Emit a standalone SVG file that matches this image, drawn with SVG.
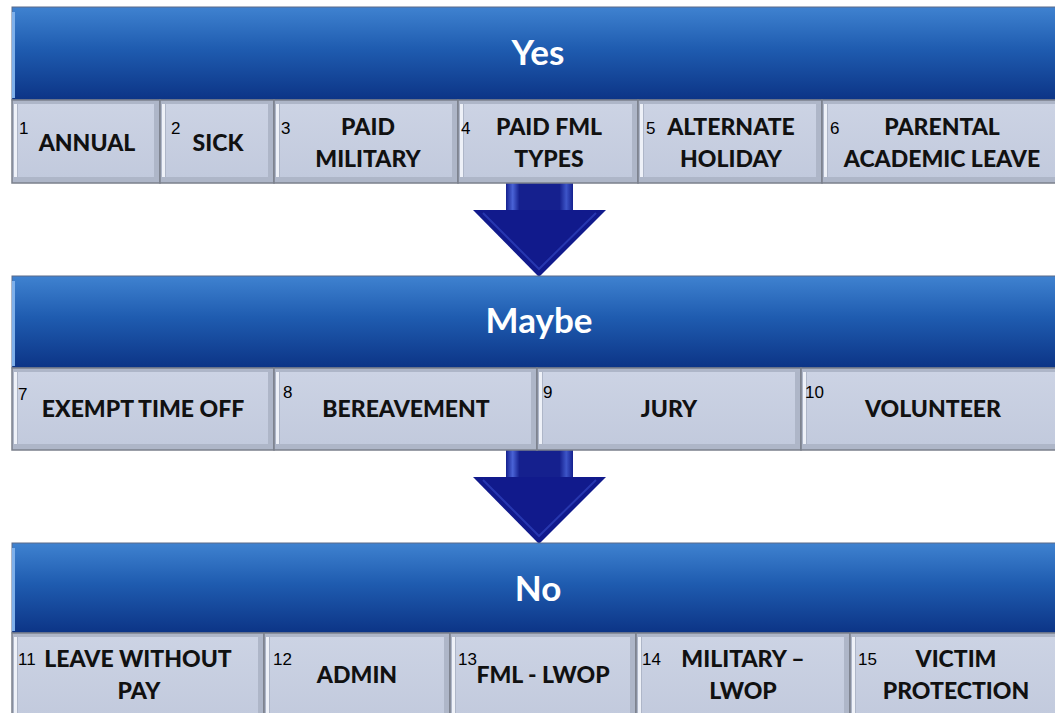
<svg xmlns="http://www.w3.org/2000/svg" width="1055" height="713" viewBox="0 0 1055 713">
<defs>
<linearGradient id="hdr" x1="0" y1="0" x2="0" y2="1">
<stop offset="0" stop-color="#3f82d0"/>
<stop offset="0.45" stop-color="#1f5cb0"/>
<stop offset="1" stop-color="#0c3486"/>
</linearGradient>
<linearGradient id="face" x1="0" y1="0" x2="0" y2="1">
<stop offset="0" stop-color="#ccd3e4"/>
<stop offset="1" stop-color="#c2cadd"/>
</linearGradient>
<linearGradient id="shaft" x1="0" y1="0" x2="1" y2="0">
<stop offset="0" stop-color="#14208e"/>
<stop offset="0.1" stop-color="#4a63d6"/>
<stop offset="0.2" stop-color="#15208e"/>
<stop offset="0.8" stop-color="#15208e"/>
<stop offset="0.9" stop-color="#3d55c8"/>
<stop offset="1" stop-color="#14208e"/>
</linearGradient>
<g id="arrow">
<rect x="-33" y="0" width="67" height="30" fill="url(#shaft)"/>
<polygon points="-66,27 67,27 0,94" fill="#111a8c"/>
<polyline points="-56,30 0,86 57,30" fill="none" stroke="#2d3fb8" stroke-width="2" opacity="0.8"/>
</g>
</defs>
<style>
.hdrbox{fill:url(#hdr);stroke:#5a6a8a;stroke-width:1}
.cellout{fill:#aeb6c8;stroke:#7b808c;stroke-width:1.5}
.cellin{fill:url(#face)}
.hl{fill:#eef1f8}
.ht{font-family:Lato,"Open Sans",sans-serif;font-weight:bold;font-size:35px;fill:#ffffff;text-anchor:middle}
.ct{font-family:Lato,"Open Sans",sans-serif;font-weight:900;font-size:23px;fill:#111111;text-anchor:middle}
.num{font-family:"Liberation Sans",Arial,sans-serif;font-size:17px;fill:#000}
</style>

<g id="connectors">
<use href="#arrow" x="539" y="183"/>
<use href="#arrow" x="539" y="450"/>
</g>

<!-- Band 1 -->
<g id="yes">
<rect class="hdrbox" x="12" y="7" width="1050" height="93"/>
<rect x="12" y="12" width="3" height="86" fill="#7fb0ea"/>
<text class="ht" x="538" y="65">Yes</text>
</g>
<g id="n1"><rect class="cellout" x="12" y="100" width="148" height="83"/><rect class="cellin" x="18" y="104" width="136" height="73"/><rect class="hl" x="14" y="104" width="3" height="73"/><text class="num" x="19" y="134">1</text><text class="ct" x="87" y="151">ANNUAL</text></g>
<g id="n2"><rect class="cellout" x="160" y="100" width="114" height="83"/><rect class="cellin" x="166" y="104" width="102" height="73"/><rect class="hl" x="162" y="104" width="3" height="73"/><text class="num" x="171" y="134">2</text><text class="ct" x="218" y="151">SICK</text></g>
<g id="n3"><rect class="cellout" x="274" y="100" width="184" height="83"/><rect class="cellin" x="280" y="104" width="172" height="73"/><rect class="hl" x="276" y="104" width="3" height="73"/><text class="num" x="281" y="134">3</text><text class="ct" x="368" y="135">PAID</text><text class="ct" x="368" y="167">MILITARY</text></g>
<g id="n4"><rect class="cellout" x="458" y="100" width="180" height="83"/><rect class="cellin" x="464" y="104" width="168" height="73"/><rect class="hl" x="460" y="104" width="3" height="73"/><text class="num" x="461" y="134">4</text><text class="ct" x="549" y="135">PAID FML</text><text class="ct" x="549" y="167">TYPES</text></g>
<g id="n5"><rect class="cellout" x="638" y="100" width="184" height="83"/><rect class="cellin" x="644" y="104" width="172" height="73"/><rect class="hl" x="640" y="104" width="3" height="73"/><text class="num" x="646" y="134">5</text><text class="ct" x="731" y="135">ALTERNATE</text><text class="ct" x="731" y="167">HOLIDAY</text></g>
<g id="n6"><rect class="cellout" x="822" y="100" width="240" height="83"/><rect class="cellin" x="828" y="104" width="230" height="73"/><rect class="hl" x="824" y="104" width="3" height="73"/><text class="num" x="830" y="134">6</text><text class="ct" x="942" y="135">PARENTAL</text><text class="ct" x="942" y="167">ACADEMIC LEAVE</text></g>

<!-- Band 2 -->
<g id="maybe">
<rect class="hdrbox" x="12" y="276" width="1050" height="92"/>
<rect x="12" y="281" width="3" height="85" fill="#7fb0ea"/>
<text class="ht" x="539" y="333">Maybe</text>
</g>
<g id="n7"><rect class="cellout" x="12" y="368" width="262" height="82"/><rect class="cellin" x="18" y="372" width="250" height="72"/><rect class="hl" x="14" y="372" width="3" height="72"/><text class="num" x="18" y="400">7</text><text class="ct" x="143" y="417">EXEMPT TIME OFF</text></g>
<g id="n8"><rect class="cellout" x="274" y="368" width="263" height="82"/><rect class="cellin" x="280" y="372" width="251" height="72"/><rect class="hl" x="276" y="372" width="3" height="72"/><text class="num" x="283" y="398">8</text><text class="ct" x="406" y="417">BEREAVEMENT</text></g>
<g id="n9"><rect class="cellout" x="537" y="368" width="264" height="82"/><rect class="cellin" x="543" y="372" width="252" height="72"/><rect class="hl" x="539" y="372" width="3" height="72"/><text class="num" x="543" y="398">9</text><text class="ct" x="669" y="417">JURY</text></g>
<g id="n10"><rect class="cellout" x="801" y="368" width="261" height="82"/><rect class="cellin" x="807" y="372" width="251" height="72"/><rect class="hl" x="803" y="372" width="3" height="72"/><text class="num" x="805" y="398">10</text><text class="ct" x="933" y="417">VOLUNTEER</text></g>

<!-- Band 3 -->
<g id="no">
<rect class="hdrbox" x="12" y="543" width="1050" height="90"/>
<rect x="12" y="548" width="3" height="83" fill="#7fb0ea"/>
<text class="ht" x="538" y="601">No</text>
</g>
<g id="n11"><rect class="cellout" x="12" y="633" width="252" height="85"/><rect class="cellin" x="18" y="637" width="240" height="80"/><rect class="hl" x="14" y="637" width="3" height="80"/><text class="num" x="18" y="665">11</text><text class="ct" x="138" y="667">LEAVE WITHOUT</text><text class="ct" x="139" y="699">PAY</text></g>
<g id="n12"><rect class="cellout" x="264" y="633" width="186" height="85"/><rect class="cellin" x="270" y="637" width="174" height="80"/><rect class="hl" x="266" y="637" width="3" height="80"/><text class="num" x="273" y="665">12</text><text class="ct" x="357" y="683">ADMIN</text></g>
<g id="n13"><rect class="cellout" x="450" y="633" width="186" height="85"/><rect class="cellin" x="456" y="637" width="174" height="80"/><rect class="hl" x="452" y="637" width="3" height="80"/><text class="num" x="458" y="665">13</text><text class="ct" x="543" y="683">FML - LWOP</text></g>
<g id="n14"><rect class="cellout" x="636" y="633" width="214" height="85"/><rect class="cellin" x="642" y="637" width="202" height="80"/><rect class="hl" x="638" y="637" width="3" height="80"/><text class="num" x="642" y="665">14</text><text class="ct" x="743" y="667">MILITARY –</text><text class="ct" x="743" y="699">LWOP</text></g>
<g id="n15"><rect class="cellout" x="850" y="633" width="212" height="85"/><rect class="cellin" x="856" y="637" width="202" height="80"/><rect class="hl" x="852" y="637" width="3" height="80"/><text class="num" x="858" y="665">15</text><text class="ct" x="956" y="667">VICTIM</text><text class="ct" x="956" y="699">PROTECTION</text></g>
</svg>
